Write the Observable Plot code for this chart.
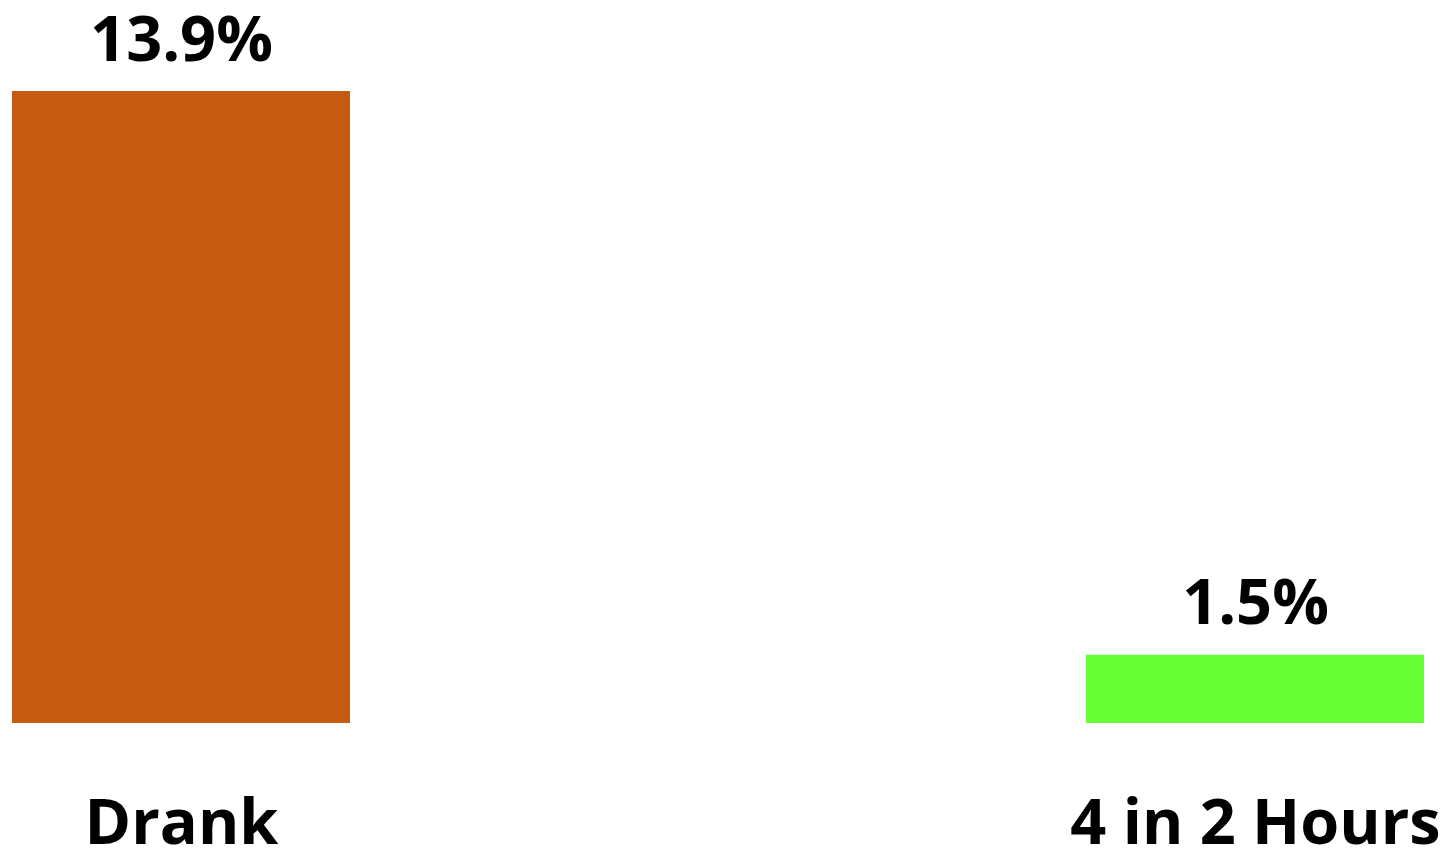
<!DOCTYPE html>
<html>
<head>
<meta charset="utf-8">
<script src="https://cdn.jsdelivr.net/npm/d3@7"></script>
<script src="https://cdn.jsdelivr.net/npm/@observablehq/plot@0.6"></script>
<style>
  html, body { margin: 0; padding: 0; background: #fff; }
  svg { display: block; }
</style>
</head>
<body>
<div id="chart"></div>
<script>
const categories = ["Drank", "4 in 2 Hours"];
const values = [13.9, 1.5];
const labels = ["13.9%", "1.5%"];
const colors = ["#C55A11", "#66FF33"];

const data = categories.map((c, i) => ({cat: c, value: values[i], label: labels[i], color: colors[i]}));

const chart = Plot.plot({
  width: 1445,
  height: 850,
  marginLeft: 12,
  marginRight: 21,
  marginTop: 91,
  marginBottom: 127,
  style: {fontFamily: "'Open Sans', sans-serif", background: "#fff"},
  x: {domain: categories, paddingInner: 0.6853, paddingOuter: 0, axis: null},
  y: {domain: [0, 13.9], axis: null},
  marks: [
    Plot.barY(data, {x: "cat", y: "value", fill: "color"}),
    Plot.text(data, {x: "cat", y: "value", text: "label", lineAnchor: "bottom", dy: -31,
      fontSize: 63, fontWeight: "bold", fill: "#000"}),
    Plot.text(data, {x: "cat", y: 0, text: "cat", lineAnchor: "bottom", dy: 120,
      fontSize: 63, fontWeight: "bold", fill: "#000"})
  ]
});
document.getElementById("chart").appendChild(chart);
</script>
</body>
</html>
